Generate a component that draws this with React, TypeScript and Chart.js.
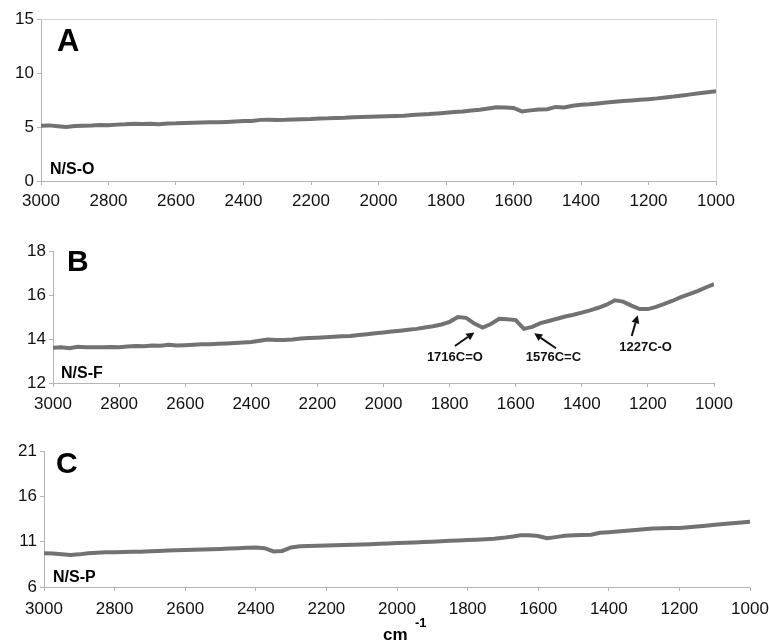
import React, { useEffect, useRef } from "react";
import { Chart, registerables } from "chart.js";

Chart.register(...registerables);

const wavenumbers = [
  3000, 2975, 2950, 2925, 2900, 2875, 2850, 2825, 2800, 2775, 2750, 2725, 2700, 2675, 2650, 2625,
  2600, 2575, 2550, 2525, 2500, 2475, 2450, 2425, 2400, 2375, 2350, 2325, 2300, 2275, 2250, 2225,
  2200, 2175, 2150, 2125, 2100, 2075, 2050, 2025, 2000, 1975, 1950, 1925, 1900, 1875, 1850, 1825,
  1800, 1775, 1750, 1725, 1700, 1675, 1650, 1625, 1600, 1575, 1550, 1525, 1500, 1475, 1450, 1425,
  1400, 1375, 1350, 1325, 1300, 1275, 1250, 1225, 1200, 1175, 1150, 1125, 1100, 1075, 1050, 1025,
  1000,
];

const seriesNSO = [
  5.12, 5.15, 5.08, 5.0, 5.1, 5.12, 5.14, 5.18, 5.17, 5.22, 5.25, 5.3, 5.28, 5.3, 5.26, 5.32,
  5.34, 5.38, 5.4, 5.42, 5.44, 5.43, 5.47, 5.52, 5.56, 5.55, 5.66, 5.68, 5.64, 5.66, 5.7, 5.72,
  5.74, 5.78, 5.8, 5.84, 5.86, 5.9, 5.93, 5.95, 5.97, 5.99, 6.02, 6.05, 6.1, 6.16, 6.2, 6.26,
  6.32, 6.38, 6.44, 6.52, 6.6, 6.72, 6.82, 6.8, 6.76, 6.44, 6.54, 6.62, 6.64, 6.86, 6.8, 6.96,
  7.05, 7.1, 7.18, 7.26, 7.34, 7.4, 7.46, 7.52, 7.58, 7.65, 7.74, 7.82, 7.92, 8.02, 8.12, 8.22,
  8.3,
];

const seriesNSF = [
  13.6, 13.62, 13.58, 13.65, 13.62, 13.63, 13.62, 13.64, 13.63, 13.66, 13.68, 13.67, 13.7, 13.69, 13.74, 13.7,
  13.72, 13.74, 13.76, 13.76, 13.78, 13.8, 13.82, 13.84, 13.86, 13.92, 13.98, 13.96, 13.96, 13.98, 14.02, 14.04,
  14.06, 14.08, 14.1, 14.12, 14.14, 14.18, 14.22, 14.26, 14.3, 14.34, 14.38, 14.42, 14.46, 14.52, 14.58, 14.66,
  14.78, 15.0, 14.96, 14.7, 14.52, 14.68, 14.92, 14.9, 14.86, 14.46, 14.55, 14.72, 14.82, 14.92, 15.02, 15.1,
  15.2, 15.3, 15.42, 15.56, 15.76, 15.7, 15.52, 15.36, 15.36, 15.46, 15.6, 15.74, 15.9, 16.04, 16.18, 16.34,
  16.5,
];

const seriesNSP = [
  9.72, 9.7, 9.62, 9.52, 9.6, 9.72, 9.78, 9.82, 9.84, 9.86, 9.88, 9.9, 9.94, 9.98, 10.02, 10.05,
  10.08, 10.1, 10.13, 10.17, 10.2, 10.24, 10.28, 10.32, 10.36, 10.28, 9.92, 9.98, 10.36, 10.5, 10.52, 10.55,
  10.58, 10.6, 10.62, 10.65, 10.68, 10.72, 10.76, 10.8, 10.85, 10.88, 10.92, 10.96, 11.0, 11.04, 11.1, 11.14,
  11.18, 11.22, 11.26, 11.32, 11.42, 11.55, 11.7, 11.72, 11.62, 11.38, 11.5, 11.64, 11.7, 11.74, 11.76, 11.98,
  12.04, 12.12, 12.2, 12.28, 12.36, 12.44, 12.48, 12.52, 12.5, 12.58, 12.66, 12.76, 12.86, 12.96, 13.04, 13.12,
  13.2,
];

const xTickLabels = ["3000", "2800", "2600", "2400", "2200", "2000", "1800", "1600", "1400", "1200", "1000"];

const annotLabels = ["1716C=O", "1576C=C", "1227C-O"];
const annotTextX = [1784, 1486, 1207];
const annotTextY = [13.18, 13.18, 13.62];
const arrowFromX = [1784, 1478, 1249];
const arrowFromY = [13.68, 13.58, 14.14];
const arrowToX = [1725, 1544, 1231];
const arrowToY = [14.3, 14.26, 15.08];

const FONT = "'Liberation Sans', Arial, Helvetica, sans-serif";
const LINE_COLOR = "#727272";
const AXIS_COLOR = "#b4b4b4";

type PanelSpec = {
  top: number;
  height: number;
  yWidth: number;
  padTop: number;
  padRight: number;
  xAxisHeight: number;
  xPad: number;
  yMin: number;
  yMax: number;
  yStep: number;
  values: number[];
  frame: boolean;
  draw: (chart: any, ctx: CanvasRenderingContext2D) => void;
};

function drawArrow(ctx: CanvasRenderingContext2D, x1: number, y1: number, x2: number, y2: number) {
  const ang = Math.atan2(y2 - y1, x2 - x1);
  const head = 8;
  const bx = x2 - Math.cos(ang) * head;
  const by = y2 - Math.sin(ang) * head;
  ctx.strokeStyle = "#111";
  ctx.lineWidth = 2;
  ctx.beginPath();
  ctx.moveTo(x1, y1);
  ctx.lineTo(bx, by);
  ctx.stroke();
  ctx.fillStyle = "#111";
  ctx.beginPath();
  ctx.moveTo(x2, y2);
  ctx.lineTo(bx + Math.cos(ang + Math.PI / 2) * 4, by + Math.sin(ang + Math.PI / 2) * 4);
  ctx.lineTo(bx + Math.cos(ang - Math.PI / 2) * 4, by + Math.sin(ang - Math.PI / 2) * 4);
  ctx.closePath();
  ctx.fill();
}

const panels: PanelSpec[] = [
  {
    top: 0,
    height: 215,
    yWidth: 41,
    padTop: 19,
    padRight: 53,
    xAxisHeight: 34,
    xPad: 6,
    yMin: 0,
    yMax: 15,
    yStep: 5,
    values: seriesNSO,
    frame: true,
    draw: (chart, ctx) => {
      ctx.fillStyle = "#000";
      ctx.textBaseline = "alphabetic";
      ctx.textAlign = "left";
      ctx.font = `bold 31px ${FONT}`;
      ctx.fillText("A", 57, 51);
      ctx.font = `bold 16px ${FONT}`;
      ctx.fillText("N/S-O", 50, 173.5);
    },
  },
  {
    top: 215,
    height: 205,
    yWidth: 53,
    padTop: 36,
    padRight: 55,
    xAxisHeight: 37,
    xPad: 7,
    yMin: 12,
    yMax: 18,
    yStep: 2,
    values: seriesNSF,
    frame: false,
    draw: (chart, ctx) => {
      ctx.fillStyle = "#000";
      ctx.textBaseline = "alphabetic";
      ctx.textAlign = "left";
      ctx.font = `bold 30px ${FONT}`;
      ctx.fillText("B", 67, 56);
      ctx.font = `bold 16px ${FONT}`;
      ctx.fillText("N/S-F", 61, 162.7);
      const xs = chart.scales.x;
      const ys = chart.scales.y;
      for (let i = 0; i < annotLabels.length; i++) {
        drawArrow(
          ctx,
          xs.getPixelForValue(arrowFromX[i]),
          ys.getPixelForValue(arrowFromY[i]),
          xs.getPixelForValue(arrowToX[i]),
          ys.getPixelForValue(arrowToY[i])
        );
        ctx.fillStyle = "#111";
        ctx.font = `bold 13px ${FONT}`;
        ctx.textAlign = "center";
        ctx.textBaseline = "middle";
        ctx.fillText(annotLabels[i], xs.getPixelForValue(annotTextX[i]), ys.getPixelForValue(annotTextY[i]));
      }
    },
  },
  {
    top: 420,
    height: 221,
    yWidth: 44,
    padTop: 31,
    padRight: 19,
    xAxisHeight: 54,
    xPad: 8,
    yMin: 6,
    yMax: 21,
    yStep: 5,
    values: seriesNSP,
    frame: false,
    draw: (chart, ctx) => {
      ctx.fillStyle = "#000";
      ctx.textBaseline = "alphabetic";
      ctx.textAlign = "left";
      ctx.font = `bold 30px ${FONT}`;
      ctx.fillText("C", 56, 53.3);
      ctx.font = `bold 16px ${FONT}`;
      ctx.fillText("N/S-P", 53, 161.7);
      ctx.font = `bold 17px ${FONT}`;
      ctx.fillText("cm", 383, 219.5);
      ctx.font = `bold 13px ${FONT}`;
      ctx.fillText("-1", 415, 206.5);
    },
  },
];

function Panel({ spec }: { spec: PanelSpec }) {
  const ref = useRef<HTMLCanvasElement | null>(null);
  useEffect(() => {
    if (!ref.current) return;
    const points = wavenumbers.map((w, i) => ({ x: w, y: spec.values[i] }));
    const chart = new Chart(ref.current, {
      type: "line",
      data: {
        datasets: [
          {
            data: points,
            borderColor: LINE_COLOR,
            borderWidth: 4,
            pointRadius: 0,
            tension: 0,
            fill: false,
          },
        ],
      },
      options: {
        responsive: false,
        animation: false,
        events: [],
        layout: { padding: { left: 0, top: spec.padTop, right: spec.padRight, bottom: 0 } },
        plugins: { legend: { display: false }, tooltip: { enabled: false }, title: { display: false } },
        scales: {
          x: {
            type: "linear",
            min: 1000,
            max: 3000,
            reverse: true,
            afterFit: (s: any) => {
              s.height = spec.xAxisHeight;
              s.paddingLeft = 0;
              s.paddingRight = 0;
            },
            afterBuildTicks: (s: any) => {
              s.ticks = xTickLabels.map((t) => ({ value: Number(t) }));
            },
            ticks: {
              color: "#111",
              font: { family: FONT, size: 17 },
              padding: spec.xPad,
              maxRotation: 0,
              autoSkip: false,
              callback: (v: any) => String(v),
            },
            grid: { drawOnChartArea: false, drawTicks: true, tickLength: 4, color: AXIS_COLOR },
            border: { display: true, color: AXIS_COLOR, width: 1 },
          },
          y: {
            type: "linear",
            min: spec.yMin,
            max: spec.yMax,
            afterFit: (s: any) => {
              s.width = spec.yWidth;
              s.paddingTop = 0;
              s.paddingBottom = 0;
            },
            ticks: {
              stepSize: spec.yStep,
              color: "#111",
              font: { family: FONT, size: 17 },
              padding: 3,
            },
            grid: { drawOnChartArea: false, drawTicks: true, tickLength: 4, color: AXIS_COLOR },
            border: { display: true, color: AXIS_COLOR, width: 1 },
          },
        },
      },
      plugins: [
        {
          id: "frame",
          beforeDatasetsDraw(chart: any) {
            if (!spec.frame) return;
            const { ctx, chartArea } = chart;
            ctx.save();
            ctx.strokeStyle = "#d6d6d6";
            ctx.lineWidth = 1;
            ctx.beginPath();
            ctx.moveTo(chartArea.left, chartArea.top + 0.5);
            ctx.lineTo(chartArea.right + 0.5, chartArea.top + 0.5);
            ctx.lineTo(chartArea.right + 0.5, chartArea.bottom);
            ctx.stroke();
            ctx.restore();
          },
        },
        {
          id: "texts",
          afterDraw(chart: any) {
            const ctx = chart.ctx;
            ctx.save();
            spec.draw(chart, ctx);
            ctx.restore();
          },
        },
      ],
    });
    return () => chart.destroy();
  }, [spec]);
  return (
    <canvas
      ref={ref}
      width={769}
      height={spec.height}
      style={{ position: "absolute", left: 0, top: spec.top, width: 769, height: spec.height }}
    />
  );
}

export default function App() {
  return (
    <div style={{ position: "absolute", left: 0, top: 0, width: 769, height: 641, background: "#fff" }}>
      {panels.map((p, i) => (
        <Panel key={i} spec={p} />
      ))}
    </div>
  );
}
